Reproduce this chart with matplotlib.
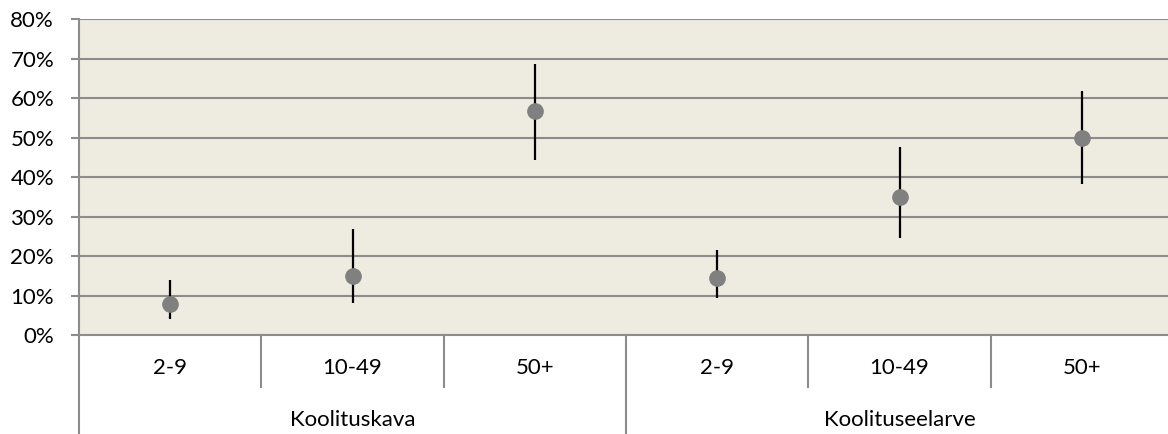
import matplotlib.pyplot as plt
import matplotlib.transforms as transforms
import numpy as np

plt.rcParams['font.family'] = ['Lato', 'DejaVu Sans']

# andmed
groups = ['Koolituskava', 'Koolituseelarve']
sizes = ['2-9', '10-49', '50+']
kava = [7.8, 15.0, 56.8]
kava_low = [4.1, 8.0, 44.3]
kava_high = [13.9, 26.8, 68.5]
eelarve = [14.4, 35.0, 50.0]
eelarve_low = [9.4, 24.5, 38.2]
eelarve_high = [21.5, 47.7, 61.8]

values = np.array(kava + eelarve)
low = np.array(kava_low + eelarve_low)
high = np.array(kava_high + eelarve_high)
x = np.arange(len(values))

W, H = 1168, 434
fig = plt.figure(figsize=(W / 100, H / 100), dpi=100)
ax = fig.add_axes([79 / W, (H - 335) / H, (1173 - 79) / W, 316 / H])
ax.set_facecolor('#EEEBE0')

grid_c = '#8C8C8C'
fs = 16
for v in range(10, 90, 10):
    ax.axhline(v, color=grid_c, lw=1.5, zorder=1)

ax.errorbar(x, values, yerr=[values - low, high - values], fmt='none',
            ecolor='black', elinewidth=1.6, capsize=0, zorder=2)
ax.plot(x, values, 'o', color='#808080', ms=11, mec='#808080', zorder=3)

ax.set_xlim(-0.5, len(values) - 0.5)
ax.set_ylim(0, 80)
ax.set_yticks(range(0, 90, 10))
ax.set_yticklabels([f'{v}%' for v in range(0, 90, 10)], fontsize=fs)
ax.tick_params(axis='y', length=6, width=1.5, color=grid_c, pad=12)
ax.set_xticks([])

for s in ['top', 'right', 'bottom']:
    ax.spines[s].set_visible(False)
ax.spines['left'].set_color(grid_c)
ax.spines['left'].set_linewidth(1.5)
ax.axhline(0, color=grid_c, lw=1.5, zorder=1, clip_on=False)

# kategooriate jaotus all
trans = transforms.blended_transform_factory(ax.transData, ax.transAxes)
px = 1 / 316
for i in range(len(values)):
    ax.text(x[i], -33 * px, sizes[i % 3], transform=trans, ha='center',
            va='center', fontsize=fs)
    if i % 3 == 0:
        ax.plot([i - 0.5, i - 0.5], [0, -105 * px], transform=trans,
                color=grid_c, lw=1.5, clip_on=False)
    else:
        ax.plot([i - 0.5, i - 0.5], [0, -52 * px], transform=trans,
                color=grid_c, lw=1.5, clip_on=False)
ax.plot([5.5, 5.5], [0, -105 * px], transform=trans, color=grid_c, lw=1.5,
        clip_on=False)

for g, name in enumerate(groups):
    ax.text(g * 3 + 1, -85 * px, name, transform=trans, ha='center',
            va='center', fontsize=fs)

fig.savefig('out.png', dpi=100)
